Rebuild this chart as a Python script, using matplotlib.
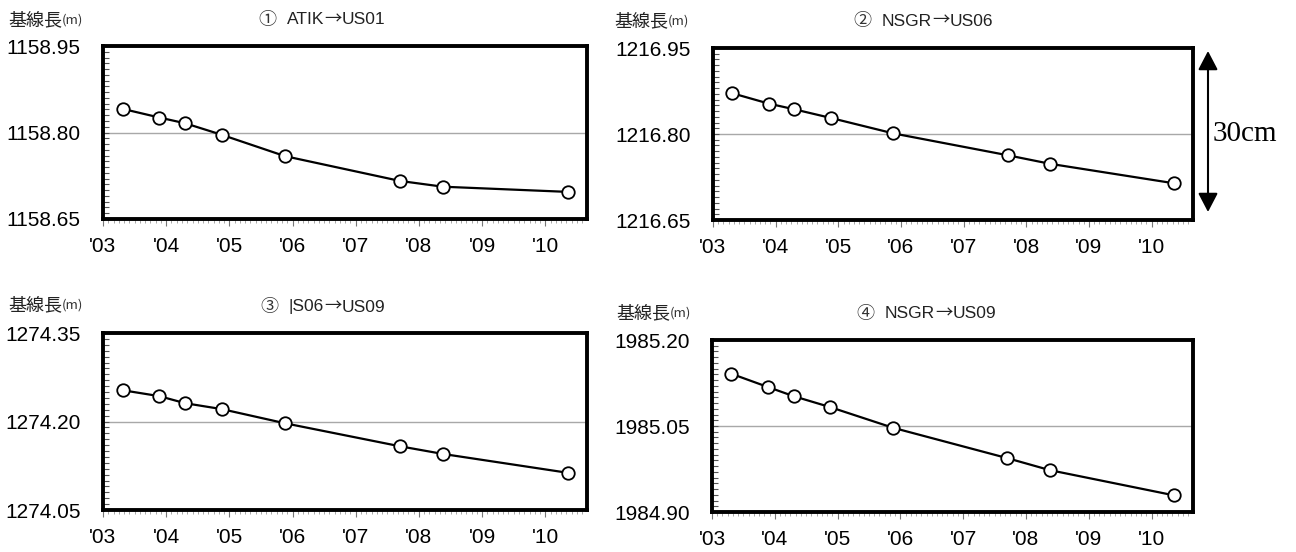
import numpy as np
import matplotlib
matplotlib.use("Agg")
import matplotlib.pyplot as plt
from matplotlib.ticker import FixedLocator, MultipleLocator, FixedFormatter
from matplotlib.patches import FancyArrowPatch

plt.rcParams['font.family'] = ['Liberation Sans', 'Noto Sans CJK JP', 'DejaVu Sans']

# Survey epochs (decimal years)
years = [2003.31, 2003.89, 2004.30, 2004.88, 2005.88, 2007.70, 2008.38, 2010.36]

# Baseline lengths (m)
atik_us01 = [1158.841, 1158.826, 1158.816, 1158.796, 1158.759, 1158.716, 1158.706, 1158.697]
nsgr_us06 = [1216.871, 1216.853, 1216.843, 1216.828, 1216.801, 1216.763, 1216.748, 1216.714]
us06_us09 = [1274.253, 1274.243, 1274.231, 1274.221, 1274.197, 1274.158, 1274.145, 1274.113]
nsgr_us09 = [1985.141, 1985.118, 1985.102, 1985.083, 1985.047, 1984.994, 1984.973, 1984.929]

title_marks = ["①", "②", "③", "④"]
title_from = ["ATIK", "NSGR", "|S06", "NSGR"]
title_to = ["US01", "US06", "US09", "US09"]
y_ranges = [(1158.65, 1158.95), (1216.65, 1216.95), (1274.05, 1274.35), (1984.90, 1985.20)]
year_ticks = [2003, 2004, 2005, 2006, 2007, 2008, 2009, 2010]
year_labels = ["'03", "'04", "'05", "'06", "'07", "'08", "'09", "'10"]
x_range = (2003.0, 2010.66)

W, H = 1296, 552
fig = plt.figure(figsize=(W / 100, H / 100), dpi=100, facecolor='white')
renderer = fig.canvas.get_renderer()


def px_axes(l, t, r, b):
    return fig.add_axes([l / W, 1 - b / H, (r - l) / W, (b - t) / H])


def fig_xy(x, y):
    return (x / W, 1 - y / H)


def text_run(x, y, pieces):
    """Write (string, fontsize, family, colour) pieces one after another from x (pixels)."""
    for s, size, fam, col in pieces:
        t = fig.text(*fig_xy(x, y), s, fontsize=size, family=fam,
                     ha='left', va='center', color=col)
        x = t.get_window_extent(renderer).x1


# panel boxes in pixels: left, top, right, bottom
boxes = [(103, 46, 587, 219), (713, 48, 1193, 220),
         (103, 333, 587, 510), (712, 340, 1193, 512)]
series = [atik_us01, nsgr_us06, us06_us09, nsgr_us09]
# positions of the unit label and the title for each panel (pixels)
unit_pos = [(8, 20), (614, 21), (8, 305), (616, 313)]
title_pos = [(258, 20), (853, 21), (260, 307), (856, 314)]

for (l, t, r, b), vals, (ylo, yhi), mark, a, bname, (ux, uy), (tx, ty) in zip(
        boxes, series, y_ranges, title_marks, title_from, title_to, unit_pos, title_pos):
    ax = px_axes(l, t, r, b)
    ymid = round((ylo + yhi) / 2, 2)
    ax.axhline(ymid, color='#a8a8a8', lw=1.0, zorder=1)
    ax.plot(years, vals, '-o', color='black', lw=1.6, ms=9,
            mfc='white', mec='black', mew=1.3, zorder=3, clip_on=False)
    ax.set_xlim(*x_range)
    ax.set_ylim(ylo, yhi)

    ax.yaxis.set_major_locator(FixedLocator([ylo, ymid, yhi]))
    ax.yaxis.set_major_formatter(FixedFormatter([f"{v:.2f}" for v in (ylo, ymid, yhi)]))
    ax.yaxis.set_minor_locator(MultipleLocator(0.01))
    ax.xaxis.set_major_locator(FixedLocator(year_ticks))
    ax.xaxis.set_major_formatter(FixedFormatter(year_labels))
    ax.xaxis.set_minor_locator(MultipleLocator(1 / 12))

    ax.tick_params(axis='y', which='both', direction='in', length=4, width=0.8,
                   color='#555555', labelsize=15, pad=16)
    ax.tick_params(axis='x', which='major', direction='out', length=5, width=0.8,
                   color='#777777', labelsize=15, pad=8)
    ax.tick_params(axis='x', which='minor', direction='out', length=3, width=0.6,
                   color='#999999')
    for s in ax.spines.values():
        s.set_linewidth(2.8)
        s.set_color('black')

    text_run(ux, uy, [("基線長", 13, ['Noto Sans CJK JP'], '#222222'),
                      ("(m)", 9.5, ['Noto Sans CJK JP'], '#333333')])
    fig.text(*fig_xy(tx, ty), mark, fontsize=13, family=['Noto Sans CJK JP'],
             ha='left', va='center', color='#333333')
    text_run(tx + 29, ty, [(a, 12.5, ['Liberation Sans'], '#222222'),
                           ("→", 12.5, ['Noto Sans CJK JP'], '#222222'),
                           (bname, 12.5, ['Liberation Sans'], '#222222')])

# 30 cm scale bar beside panel 2
arrow = FancyArrowPatch(fig_xy(1208, 51), fig_xy(1208, 212), transform=fig.transFigure,
                        arrowstyle='<|-|>,head_length=1.15,head_width=0.6',
                        mutation_scale=10, color='black', lw=1.5,
                        shrinkA=0, shrinkB=0)
fig.patches.append(arrow)
fig.text(*fig_xy(1213, 134), "30cm", family='Liberation Serif', fontsize=21,
         ha='left', va='center', color='black')

fig.savefig("out.png", dpi=100, facecolor='white')
